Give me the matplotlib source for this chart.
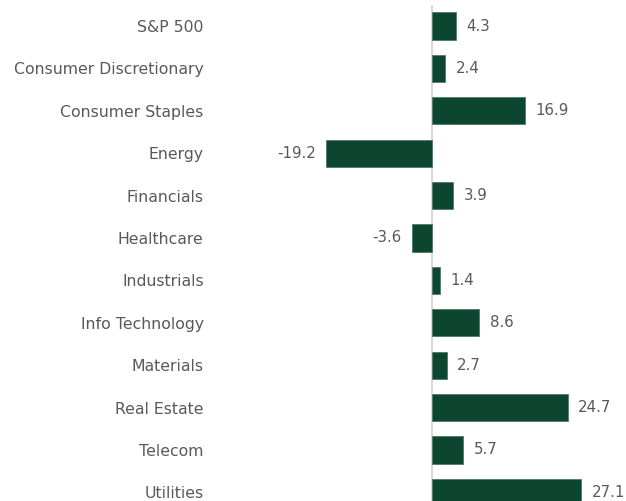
import matplotlib.pyplot as plt

# sector returns (%)
sectors = ['S&P 500', 'Consumer Discretionary', 'Consumer Staples', 'Energy',
           'Financials', 'Healthcare', 'Industrials', 'Info Technology',
           'Materials', 'Real Estate', 'Telecom', 'Utilities']
returns = [4.3, 2.4, 16.9, -19.2, 3.9, -3.6, 1.4, 8.6, 2.7, 24.7, 5.7, 27.1]

bar_color = '#0c4631'
text_color = '#595959'

W, H = 626, 501
fig = plt.figure(figsize=(W / 100, H / 100), dpi=100)

# axes placement in pixels: zero at x=432, 5.5 px per unit, rows 42.4 px apart
x_lo, x_hi = -40, 35
px_per = 5.5
left_px = 432 + x_lo * px_per
right_px = 432 + x_hi * px_per
top_px = 26 - 0.5 * 42.4
bot_px = 26 + 11.5 * 42.4
ax = fig.add_axes([left_px / W, 1 - bot_px / H,
                   (right_px - left_px) / W, (bot_px - top_px) / H])

ypos = list(range(len(sectors)))
ax.barh(ypos, returns, height=0.64, color=bar_color,
        edgecolor='#4f7a68', linewidth=0.6, zorder=3)
ax.axvline(0, color='#d9d9d9', linewidth=1.5, zorder=2)

ax.set_xlim(x_lo, x_hi)
ax.set_ylim(len(sectors) - 0.5, -0.5)

for y, v in zip(ypos, returns):
    ha = 'left' if v >= 0 else 'right'
    off = 1.9 if v >= 0 else -1.9
    ax.text(v + off, y, f'{v:.1f}', ha=ha, va='center',
            fontsize=10.8, color=text_color)

ax.set_yticks(ypos)
ax.set_yticklabels(sectors, fontsize=11.3, color=text_color)
ax.tick_params(axis='y', length=0, pad=6)
ax.set_xticks([])
for s in ax.spines.values():
    s.set_visible(False)
ax.patch.set_alpha(0)

fig.savefig('out.png', dpi=100)
